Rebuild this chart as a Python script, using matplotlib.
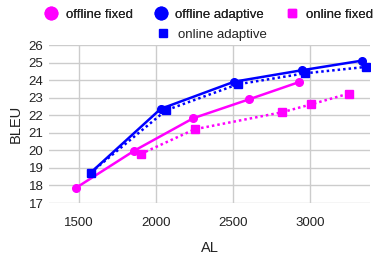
import matplotlib
matplotlib.use("Agg")
import matplotlib.pyplot as plt
from matplotlib.lines import Line2D

plt.rcParams['font.family'] = ['Liberation Sans', 'DejaVu Sans']

off_fixed_x = [1480, 1859, 2242, 2606, 2930]
off_fixed_y = [17.86, 19.98, 21.83, 22.91, 23.89]
off_adapt_x = [1576, 2030, 2508, 2946, 3338]
off_adapt_y = [18.73, 22.36, 23.91, 24.56, 25.11]
on_fixed_x = [1900, 2251, 2820, 3008, 3251]
on_fixed_y = [19.79, 21.2, 22.17, 22.62, 23.23]
on_adapt_x = [1576, 2065, 2530, 2970, 3362]
on_adapt_y = [18.73, 22.28, 23.76, 24.39, 24.75]

x_ticks = [1500, 2000, 2500, 3000]
y_ticks = list(range(17, 27))

MAG = '#ff00ff'
BLU = '#0000ff'
TXT = '#222222'

fig = plt.figure(figsize=(3.85, 2.59), dpi=100)
ax = fig.add_axes([49/385, 1-203/259, (370-49)/385, (203-45)/259])

ax.plot(off_fixed_x, off_fixed_y, color=MAG, lw=1.8, marker='o', ms=5.5, zorder=3)
ax.plot(off_adapt_x, off_adapt_y, color=BLU, lw=1.8, marker='o', ms=5.5, zorder=3)
ax.plot(on_fixed_x, on_fixed_y, color=MAG, lw=1.8, ls=(0, (1, 1.2)), marker='s', ms=5.5, zorder=3)
ax.plot(on_adapt_x, on_adapt_y, color=BLU, lw=1.8, ls=(0, (1, 1.2)), marker='s', ms=5.5, zorder=3)

ax.set_xlim(1305, 3390)
ax.set_ylim(17, 26)
ax.set_xticks(x_ticks)
ax.set_yticks(y_ticks)
ax.grid(True, color='#cccccc', lw=1)
ax.set_axisbelow(True)
for s in ax.spines.values():
    s.set_visible(False)
ax.tick_params(axis='y', length=0, labelsize=9.5, colors=TXT, pad=4)
ax.tick_params(axis='x', length=0, labelsize=9.5, colors=TXT, pad=10)
ax.set_xlabel('AL', fontsize=10.5, color=TXT, labelpad=9)
ax.set_ylabel('BLEU', fontsize=10.5, color=TXT, labelpad=4)

def h(marker, color):
    return Line2D([], [], ls='none', marker=marker, color=color, ms=9 if marker == 'o' else 6)

leg1 = fig.legend([h('o', MAG), h('o', BLU), h('s', MAG)],
                  ['offline fixed', 'offline adaptive', 'online fixed'],
                  loc='center', bbox_to_anchor=(0.543, 1-15/259), ncol=3, frameon=False,
                  fontsize=9.5, handlelength=1.0, handletextpad=0.6, columnspacing=1.6,
                  borderaxespad=0, borderpad=0, labelcolor=TXT)
fig.add_artist(leg1)
fig.legend([h('s', BLU)], ['online adaptive'],
           loc='center', bbox_to_anchor=(0.55, 1-35/259), frameon=False,
           fontsize=9.5, handlelength=1.0, handletextpad=0.6, borderaxespad=0, borderpad=0,
           labelcolor=TXT)

fig.savefig('out.png', dpi=100)
